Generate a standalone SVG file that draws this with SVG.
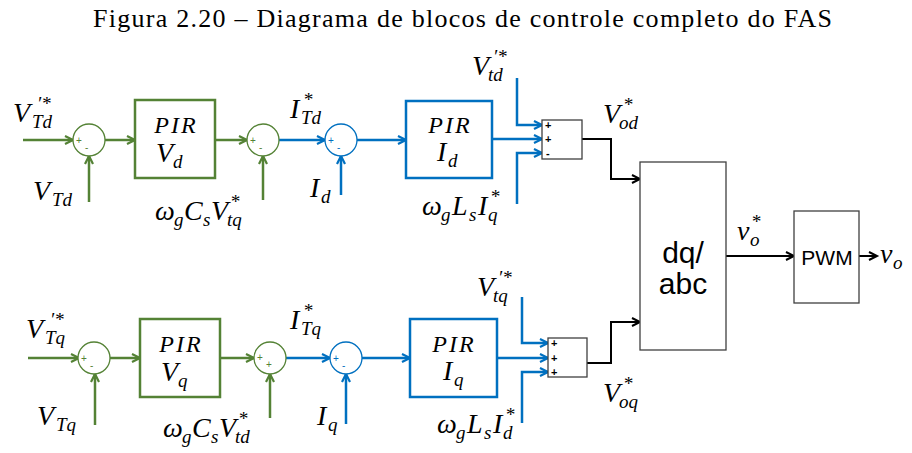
<svg xmlns="http://www.w3.org/2000/svg" width="912" height="453" viewBox="0 0 912 453">
<defs>
<marker id="ag" markerUnits="userSpaceOnUse" markerWidth="12" markerHeight="12" refX="9" refY="5" orient="auto"><path d="M1,1 L9,5 L1,9" fill="none" stroke="#548235" stroke-width="2.2"/></marker>
<marker id="ab" markerUnits="userSpaceOnUse" markerWidth="12" markerHeight="12" refX="9" refY="5" orient="auto"><path d="M1,1 L9,5 L1,9" fill="none" stroke="#0070C0" stroke-width="2.2"/></marker>
<marker id="ak" markerUnits="userSpaceOnUse" markerWidth="12" markerHeight="12" refX="9" refY="5" orient="auto"><path d="M1,1 L9,5 L1,9" fill="none" stroke="#000" stroke-width="2"/></marker>
<style>
.g{stroke:#548235;fill:none;stroke-width:2.5}
.b{stroke:#0070C0;fill:none;stroke-width:2.5}
.k{stroke:#000;fill:none;stroke-width:2}
.gc{stroke:#548235;fill:#fff;stroke-width:1.3}
.bc{stroke:#0070C0;fill:#fff;stroke-width:1.3}
.gb{stroke:#548235;fill:#fff;stroke-width:2.5}
.bb{stroke:#0070C0;fill:#fff;stroke-width:2.5}
.kb{stroke:#404040;fill:#fff;stroke-width:1.3}
.ag{marker-end:url(#ag)}
.ab{marker-end:url(#ab)}
.ak{marker-end:url(#ak)}
text{font-family:"Liberation Serif","Times New Roman",serif;fill:#000}
.m{font-style:italic;font-size:28px}
.s{font-size:19px}
.p{font-style:italic;font-size:24px;letter-spacing:2px;text-anchor:middle}
.bm{font-style:italic;font-size:28px}
.bs{font-size:19px}
.sg{font-family:"Liberation Sans",Arial,sans-serif;font-size:10px}
.sgg{fill:#548235}
.sgb{fill:#0070C0}
.sk{font-family:"Liberation Sans",Arial,sans-serif;font-size:11px;font-weight:bold}
.sans{font-family:"Liberation Sans",Arial,sans-serif;text-anchor:middle}
.title{font-family:"Liberation Serif","Times New Roman",serif;font-size:26px}
</style>
</defs>
<rect width="912" height="453" fill="#fff"/>
<text class="title" x="93" y="27" textLength="739" lengthAdjust="spacing">Figura 2.20 – Diagrama de blocos de controle completo do FAS</text>

<g id="connectors">
<line class="g ag" x1="23" y1="140" x2="73" y2="140"/>
<line class="g ag" x1="89" y1="202" x2="89" y2="156"/>
<line class="g ag" x1="105" y1="140" x2="135" y2="140"/>
<line class="g ag" x1="215" y1="140" x2="247" y2="140"/>
<line class="g ag" x1="263" y1="200" x2="263" y2="156"/>
<line class="b ab" x1="279" y1="140" x2="325" y2="140"/>
<line class="b ab" x1="341" y1="195" x2="341" y2="156"/>
<line class="b ab" x1="357" y1="140" x2="406" y2="140"/>
<line class="b ab" x1="492" y1="139" x2="542" y2="139"/>
<polyline class="b ab" points="517,78 517,125 542,125"/>
<polyline class="b ab" points="517,204 517,153 542,153"/>
<polyline class="k ak" points="582,139 611,139 611,179 640,179"/>

<line class="g ag" x1="28" y1="358" x2="79" y2="358"/>
<line class="g ag" x1="95" y1="425" x2="95" y2="374"/>
<line class="g ag" x1="110" y1="358" x2="140" y2="358"/>
<line class="g ag" x1="220" y1="358" x2="254" y2="358"/>
<line class="g ag" x1="270" y1="418" x2="270" y2="374"/>
<line class="b ab" x1="286" y1="358" x2="330" y2="358"/>
<line class="b ab" x1="346" y1="424" x2="346" y2="374"/>
<line class="b ab" x1="362" y1="358" x2="410" y2="358"/>
<line class="b ab" x1="497" y1="358" x2="548" y2="358"/>
<polyline class="b ab" points="522,297 522,343 548,343"/>
<polyline class="b ab" points="522,423 522,372 548,372"/>
<polyline class="k ak" points="587,363 611,363 611,322 640,322"/>

<line class="k ak" x1="726" y1="256" x2="794" y2="256"/>
<line class="k ak" x1="859" y1="256" x2="877" y2="256"/>
</g>

<g id="sum1"><circle class="gc" cx="89" cy="140" r="16"/><text class="sg sgg" x="76" y="144">+</text><text class="sg sgg" x="85" y="151">-</text></g>
<g id="pir-vd"><rect class="gb" x="135" y="100" width="80" height="78"/><text class="p" x="176" y="133">PIR</text><text class="bm" x="156" y="162">V<tspan class="bs" x="173" y="168">d</tspan></text></g>
<g id="sum2"><circle class="gc" cx="263" cy="140" r="16"/><text class="sg sgg" x="250" y="144">+</text><text class="sg sgg" x="259" y="151">-</text></g>
<g id="sum3"><circle class="bc" cx="341" cy="140" r="16"/><text class="sg sgb" x="328" y="144">+</text><text class="sg sgb" x="337" y="151">-</text></g>
<g id="pir-id"><rect class="bb" x="406" y="101" width="86" height="77"/><text class="p" x="450" y="133">PIR</text><text class="bm" x="437" y="161">I<tspan class="bs" x="448" y="167">d</tspan></text></g>
<g id="sumbox-d"><rect class="kb" x="542" y="120" width="40" height="39"/><text class="sk" x="545" y="129">+</text><text class="sk" x="545" y="143">+</text><text class="sk" x="546" y="157">-</text></g>

<g id="sum4"><circle class="gc" cx="94" cy="358" r="16"/><text class="sg sgg" x="81" y="362">+</text><text class="sg sgg" x="90" y="369">-</text></g>
<g id="pir-vq"><rect class="gb" x="140" y="319" width="80" height="78"/><text class="p" x="181" y="352">PIR</text><text class="bm" x="161" y="381">V<tspan class="bs" x="178" y="387">q</tspan></text></g>
<g id="sum5"><circle class="gc" cx="270" cy="358" r="16"/><text class="sg sgg" x="257" y="361">+</text><text class="sg sgg" x="266" y="368">+</text></g>
<g id="sum6"><circle class="bc" cx="346" cy="358" r="16"/><text class="sg sgb" x="333" y="362">+</text><text class="sg sgb" x="342" y="369">-</text></g>
<g id="pir-iq"><rect class="bb" x="410" y="319" width="87" height="78"/><text class="p" x="454" y="352">PIR</text><text class="bm" x="443" y="380">I<tspan class="bs" x="454" y="386">q</tspan></text></g>
<g id="sumbox-q"><rect class="kb" x="548" y="338" width="39" height="39"/><text class="sk" x="551" y="347">+</text><text class="sk" x="551" y="362">+</text><text class="sk" x="551" y="376">+</text></g>

<g id="dqabc"><rect class="kb" x="640" y="162" width="86" height="188"/><text class="sans" x="683" y="263" font-size="30">dq/</text><text class="sans" x="683" y="294" font-size="30">abc</text></g>
<g id="pwm"><rect class="kb" x="794" y="211" width="65" height="92"/><text class="sans" x="827" y="265" font-size="21">PWM</text></g>

<g id="labels">
<text class="m" x="13" y="122">V<tspan class="s" x="37" y="110">′*</tspan><tspan class="s" x="32" y="128">Td</tspan></text>
<text class="m" x="33" y="200">V<tspan class="s" x="52" y="206">Td</tspan></text>
<text class="m" x="155" y="220">ω<tspan class="s" x="174" y="226">g</tspan><tspan x="184" y="220">C</tspan><tspan class="s" x="203" y="226">s</tspan><tspan x="211" y="220">V</tspan><tspan class="s" x="230" y="208">*</tspan><tspan class="s" x="227" y="226">tq</tspan></text>
<text class="m" x="290" y="118">I<tspan class="s" x="303" y="106">*</tspan><tspan class="s" x="301" y="124">Td</tspan></text>
<text class="m" x="310" y="197">I<tspan class="s" x="321" y="203">d</tspan></text>
<text class="m" x="472" y="75">V<tspan class="s" x="493" y="63">′*</tspan><tspan class="s" x="488" y="81">td</tspan></text>
<text class="m" x="422" y="215">ω<tspan class="s" x="441" y="221">g</tspan><tspan x="452" y="215">L</tspan><tspan class="s" x="469" y="221">s</tspan><tspan x="478" y="215">I</tspan><tspan class="s" x="490" y="203">*</tspan><tspan class="s" x="488" y="221">q</tspan></text>
<text class="m" x="603" y="123">V<tspan class="s" x="623" y="111">*</tspan><tspan class="s" x="619" y="129">od</tspan></text>
<text class="m" x="737" y="240">v<tspan class="s" x="751" y="228">*</tspan><tspan class="s" x="750" y="246">o</tspan></text>
<text class="m" x="880" y="263">v<tspan class="s" x="893" y="269">o</tspan></text>

<text class="m" x="26" y="338">V<tspan class="s" x="50" y="326">′*</tspan><tspan class="s" x="45" y="344">Tq</tspan></text>
<text class="m" x="37" y="425">V<tspan class="s" x="56" y="431">Tq</tspan></text>
<text class="m" x="163" y="437">ω<tspan class="s" x="182" y="443">g</tspan><tspan x="192" y="437">C</tspan><tspan class="s" x="211" y="443">s</tspan><tspan x="219" y="437">V</tspan><tspan class="s" x="238" y="425">*</tspan><tspan class="s" x="235" y="443">td</tspan></text>
<text class="m" x="290" y="329">I<tspan class="s" x="303" y="317">*</tspan><tspan class="s" x="301" y="335">Tq</tspan></text>
<text class="m" x="317" y="425">I<tspan class="s" x="328" y="431">q</tspan></text>
<text class="m" x="477" y="296">V<tspan class="s" x="498" y="284">′*</tspan><tspan class="s" x="493" y="302">tq</tspan></text>
<text class="m" x="437" y="433">ω<tspan class="s" x="456" y="439">g</tspan><tspan x="467" y="433">L</tspan><tspan class="s" x="484" y="439">s</tspan><tspan x="493" y="433">I</tspan><tspan class="s" x="505" y="421">*</tspan><tspan class="s" x="503" y="439">d</tspan></text>
<text class="m" x="603" y="402">V<tspan class="s" x="623" y="390">*</tspan><tspan class="s" x="619" y="408">oq</tspan></text>
</g>
</svg>
